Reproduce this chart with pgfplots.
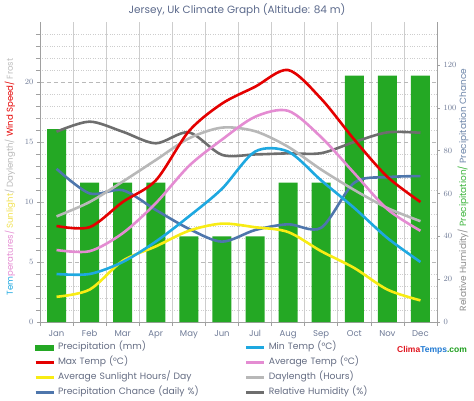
\documentclass[border=0pt]{standalone}
\usepackage{pgfplots}
\pgfplotsset{compat=1.18}
\usepackage{fontspec}
\setmainfont{Poppins}
\newfontfamily\logofont{Liberation Sans}
\definecolor{bargreen}{RGB}{36,168,36}
\definecolor{tmin}{RGB}{30,168,224}
\definecolor{tmax}{RGB}{228,0,0}
\definecolor{tavg}{RGB}{228,140,210}
\definecolor{sun}{RGB}{248,236,20}
\definecolor{dayl}{RGB}{184,184,184}
\definecolor{pchance}{RGB}{78,118,172}
\definecolor{hum}{RGB}{110,110,110}
\definecolor{ticktxt}{RGB}{110,122,150}
\definecolor{titletxt}{RGB}{92,106,140}
\definecolor{labtxt}{RGB}{100,108,130}
\definecolor{gridc}{RGB}{205,205,205}
\definecolor{gridmaj}{RGB}{185,185,185}
\definecolor{axisc}{RGB}{160,160,160}
\definecolor{sunlab}{RGB}{240,224,80}
\definecolor{frostlab}{RGB}{190,190,190}
\definecolor{humlab}{RGB}{140,140,140}
\definecolor{preclab}{RGB}{60,180,60}
\definecolor{pchlab}{RGB}{107,132,168}
\definecolor{logored}{RGB}{224,20,30}
\definecolor{logoblue}{RGB}{30,120,210}
\definecolor{logogreen}{RGB}{30,158,30}
\pgfplotsset{
  base/.style={scale only axis, width=397pt, height=300pt,
    at={(40pt,-322pt)}, anchor=south west, xmin=0.5, xmax=12.5},
  ln/.style={line width=2.6pt, smooth},
}
\begin{document}
\begin{tikzpicture}
\useasboundingbox (0pt,0pt) rectangle (474pt,-400pt);
% axis 1: grid, left ticks, months
\begin{axis}[base, ymin=0, ymax=25,
  axis x line*=bottom, axis y line*=left,
  axis line style={draw=axisc, line width=0.7pt, -},
  tick align=outside,
  xtick={1,...,12},
  xticklabels={Jan,Feb,Mar,Apr,May,Jun,Jul,Aug,Sep,Oct,Nov,Dec},
  major x tick style={draw=none},
  minor xtick={0.5,1.5,...,12.5},
  minor x tick style={draw=axisc, line width=0.6pt},
  minor tick length=4pt,
  major tick length=3pt,
  xminorgrids,
  minor x grid style={draw=gridc, line width=0.6pt},
  ytick={0,5,...,20},
  minor ytick={1,2,3,4,6,7,8,9,11,12,13,14,16,17,18,19,21,22,23,24},
  ymajorgrids, yminorgrids,
  major y grid style={draw=gridmaj, dash pattern=on 4pt off 3pt, line width=0.6pt},
  minor y grid style={draw=gridc, dotted, line width=0.5pt},
  major y tick style={draw=axisc}, minor y tick style={draw=axisc},
  ticklabel style={font=\fontsize{8.5}{10}\selectfont, text=ticktxt},
  xticklabel style={yshift=-2pt},
]
\addplot[draw=none, forget plot] coordinates {(1,0)};
\end{axis}
% axis 2: right scale
\begin{axis}[base, ymin=0, ymax=140,
  axis y line*=right, axis x line=none,
  axis line style={draw=axisc, line width=0.7pt, -},
  tick align=outside, major tick length=3pt,
  ytick={0,20,...,120},
  major y tick style={draw=axisc},
  yticklabel style={font=\fontsize{8.5}{10}\selectfont, text=ticktxt},
]
\addplot[ybar, bar width=19pt, bar shift=0pt, fill=bargreen, draw=none, forget plot] coordinates {
(1,90) (2,65) (3,65) (4,65) (5,40) (6,40) (7,40) (8,65) (9,65) (10,115) (11,115) (12,115)};
\addplot[pchance, ln, forget plot] coordinates {
(1,71.5) (2,60) (3,61.5) (4,52.3) (5,43.5) (6,37.5) (7,42.9) (8,45.6) (9,44) (10,65) (11,67.6) (12,68.1)};
\addplot[hum, ln, forget plot] coordinates {
(1,88.8) (2,93.5) (3,88.8) (4,83.4) (5,88.5) (6,78) (7,78.2) (8,78.7) (9,78.8) (10,84) (11,88.5) (12,88.3)};
\end{axis}
% axis 3: left-scale lines and legend
\begin{axis}[base, ymin=0, ymax=25, hide axis,
  legend columns=2,
  legend style={at={(axis description cs:0,0)}, anchor=north west, xshift=-6pt, yshift=-18pt,
    draw=none, fill=none, inner sep=0pt, row sep=1pt, column sep=0pt,
    font=\fontsize{9.2}{11}\selectfont, text=labtxt,
    nodes={text width=184pt, align=left, inner xsep=3pt, inner ysep=2pt, text height=7.5pt, text depth=2.5pt}},
  legend image code/.code={\draw[#1, line width=2.8pt] (0pt,0pt) -- (18pt,0pt);},
]
\addlegendimage{legend image code/.code={\fill[bargreen] (0pt,-2.5pt) rectangle (18pt,2.5pt);}}
\addlegendentry{Precipitation (mm)}
\addlegendimage{tmin}\addlegendentry{Min Temp (°C)}
\addlegendimage{tmax}\addlegendentry{Max Temp (°C)}
\addlegendimage{tavg}\addlegendentry{Average Temp (°C)}
\addlegendimage{sun}\addlegendentry{Average Sunlight Hours/ Day}
\addlegendimage{dayl}\addlegendentry{Daylength (Hours)}
\addlegendimage{pchance}\addlegendentry{Precipitation Chance (daily \%)}
\addlegendimage{hum}\addlegendentry{Relative Humidity (\%)}
\addplot[dayl, ln, forget plot] coordinates {
(1,8.8) (2,10.0) (3,11.7) (4,13.5) (5,15.3) (6,16.2) (7,15.9) (8,14.6) (9,12.7) (10,11.0) (11,9.5) (12,8.4)};
\addplot[sun, ln, forget plot] coordinates {
(1,2.1) (2,2.7) (3,5.1) (4,6.3) (5,7.6) (6,8.2) (7,7.9) (8,7.5) (9,5.9) (10,4.5) (11,2.7) (12,1.8)};
\addplot[tmin, ln, forget plot] coordinates {
(1,4.0) (2,4.0) (3,5.0) (4,6.7) (5,8.8) (6,11.1) (7,14.2) (8,14.2) (9,11.8) (10,9.5) (11,7.0) (12,5.0)};
\addplot[tavg, ln, forget plot] coordinates {
(1,6.0) (2,5.9) (3,7.4) (4,9.9) (5,13.0) (6,15.2) (7,17.1) (8,17.6) (9,15.4) (10,12.4) (11,9.4) (12,7.6)};
\addplot[tmax, ln, forget plot] coordinates {
(1,8.0) (2,7.9) (3,10.0) (4,11.8) (5,15.9) (6,18.2) (7,19.6) (8,21.0) (9,18.6) (10,15.2) (11,12.1) (12,10.0)};
\end{axis}
\node[font=\fontsize{10.5}{12}\selectfont, text=titletxt] at (237pt,-10pt) {Jersey, Uk Climate Graph (Altitude: 84 m)};
\node[rotate=90, font=\fontsize{8.6}{10}\selectfont] at (10pt,-177pt) {\textcolor{tmin}{Tem}\textcolor{tavg}{peratures/} \textcolor{sunlab}{Sunlight}\textcolor{dayl}{/ Daylength/} \textcolor{tmax}{Wind Speed/} \textcolor{frostlab}{Frost}};
\node[rotate=90, font=\fontsize{9}{10}\selectfont] at (463pt,-190pt) {\textcolor{humlab}{Relative Humidity/} \textcolor{preclab}{Precipitation/} \textcolor{pchlab}{Precipitation Chance}};
\node[font=\logofont\bfseries\fontsize{8.5}{10}\selectfont] at (432pt,-350pt) {\textcolor{logored}{Clima}\textcolor{logoblue}{Temps}\textcolor{logogreen}{.com}};
\end{tikzpicture}
\end{document}
